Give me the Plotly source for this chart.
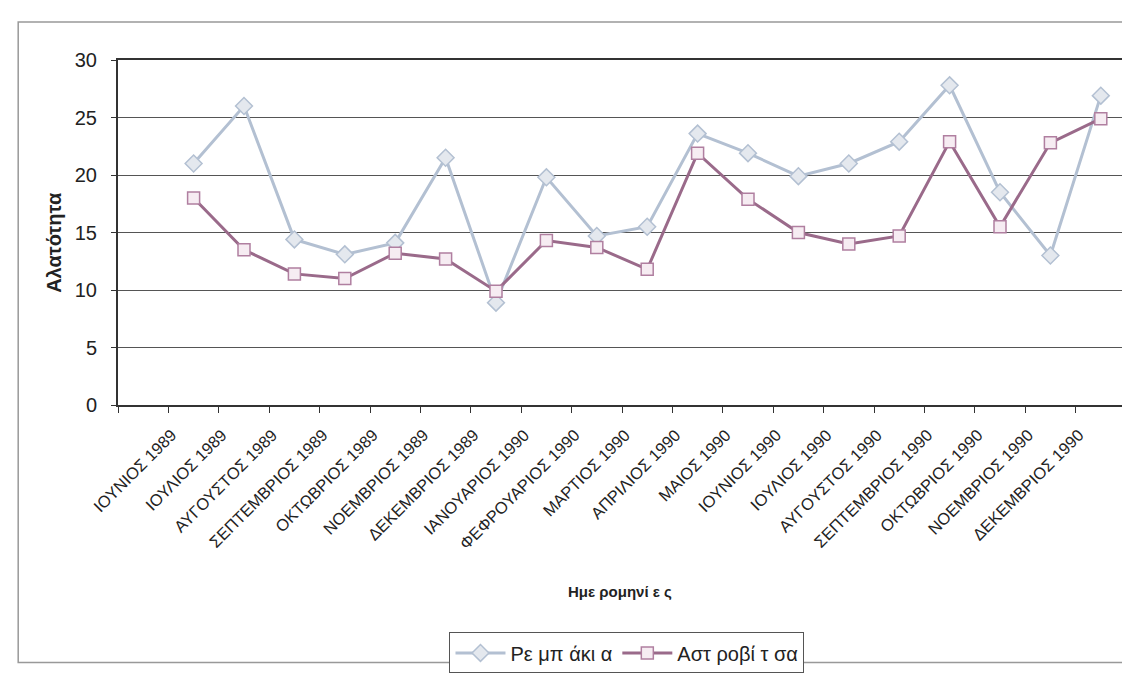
import plotly.graph_objects as go

months = ["ΙΟΥΝΙΟΣ 1989", "ΙΟΥΛΙΟΣ 1989", "ΑΥΓΟΥΣΤΟΣ 1989", "ΣΕΠΤΕΜΒΡΙΟΣ 1989",
          "ΟΚΤΩΒΡΙΟΣ 1989", "ΝΟΕΜΒΡΙΟΣ 1989", "ΔΕΚΕΜΒΡΙΟΣ 1989", "ΙΑΝΟΥΑΡΙΟΣ 1990",
          "ΦΕΦΡΟΥΑΡΙΟΣ 1990", "ΜΑΡΤΙΟΣ 1990", "ΑΠΡΙΛΙΟΣ 1990", "ΜΑΙΟΣ 1990",
          "ΙΟΥΝΙΟΣ 1990", "ΙΟΥΛΙΟΣ 1990", "ΑΥΓΟΥΣΤΟΣ 1990", "ΣΕΠΤΕΜΒΡΙΟΣ 1990",
          "ΟΚΤΩΒΡΙΟΣ 1990", "ΝΟΕΜΒΡΙΟΣ 1990", "ΔΕΚΕΜΒΡΙΟΣ 1990"]
categories = [" "] + months  # first category is empty in the source chart

rempakia = [21.0, 26.0, 14.4, 13.1, 14.1, 21.5, 8.9, 19.8, 14.7, 15.5,
            23.6, 21.9, 19.9, 21.0, 22.9, 27.8, 18.5, 13.0, 26.9]
astrovitsa = [18.0, 13.5, 11.4, 11.0, 13.2, 12.7, 9.9, 14.3, 13.7, 11.8,
              21.9, 17.9, 15.0, 14.0, 14.7, 22.9, 15.5, 22.8, 24.9]

series_names = ["Ρε μπ άκι α", "Αστ ροβί τ σα"]
y_ticks = [0, 5, 10, 15, 20, 25, 30]

FONT = "Liberation Sans, Arial, sans-serif"

fig = go.Figure()
fig.add_trace(go.Scatter(
    x=months, y=rempakia, name=series_names[0], mode="lines+markers",
    line=dict(color="#b3c0d2", width=3),
    marker=dict(symbol="diamond", size=13, color="#e4e8ee",
                line=dict(color="#b3c0d2", width=1.5)),
))
fig.add_trace(go.Scatter(
    x=months, y=astrovitsa, name=series_names[1], mode="lines+markers",
    line=dict(color="#9a6a8a", width=3),
    marker=dict(symbol="square", size=12, color="#f6ecf2",
                line=dict(color="#b07fa0", width=1.5)),
))

L, R, T, B = 110, 10, 52, 268
W, H = 1130, 675
pw, ph = W - L - R, H - T - B

def px(x):
    return (x - L) / pw

def py(y):
    return (H - B - y) / ph

fig.update_layout(
    width=W, height=H,
    margin=dict(l=L, r=R, t=T, b=B),
    paper_bgcolor="white", plot_bgcolor="white",
    font=dict(family=FONT, size=14, color="#222"),
    showlegend=True,
    legend=dict(orientation="h", x=px(620), xanchor="center", y=py(641), yanchor="top",
                bordercolor="#555", borderwidth=1, font=dict(size=20, family=FONT),
                itemwidth=50, tracegroupgap=0),
    xaxis=dict(
        type="category", categoryorder="array", categoryarray=categories,
        range=[-0.5, len(categories) - 0.5],
        tickson="boundaries", ticks="outside", ticklen=6, tickcolor="#333",
        tickangle=-45, tickfont=dict(size=16.5, family=FONT, color="#222"),
        ticklabelstandoff=12, ticklabelshift=-22,
        showgrid=False, showline=True, linecolor="#333", linewidth=2,
        mirror=True, zeroline=False,
    ),
    yaxis=dict(
        range=[0, 30], tickvals=y_ticks, ticks="outside", ticklen=5, tickcolor="#333",
        tickfont=dict(size=20, family=FONT, color="#222"),
        ticklabelstandoff=10,
        showgrid=True, gridcolor="#555", gridwidth=1,
        showline=True, linecolor="#333", linewidth=2, mirror=True, zeroline=False,
    ),
    annotations=[
        dict(text="<b>Αλατότητα</b>", xref="paper", yref="paper", x=px(46), y=py(240),
             textangle=-90, showarrow=False, font=dict(size=20, family=FONT, color="#222"),
             xanchor="center", yanchor="middle"),
        dict(text="<b>Ημε ρομηνί ε ς</b>", xref="paper", yref="paper", x=px(613), y=py(599),
             showarrow=False, font=dict(size=15, family=FONT, color="#222"),
             xanchor="center", yanchor="middle"),
    ],
    shapes=[
        dict(type="rect", xref="paper", yref="paper", x0=px(10), x1=px(1122),
             y0=py(672), y1=py(13), line=dict(color="#999", width=1.5)),
    ],
)

fig.write_html("out.html")
